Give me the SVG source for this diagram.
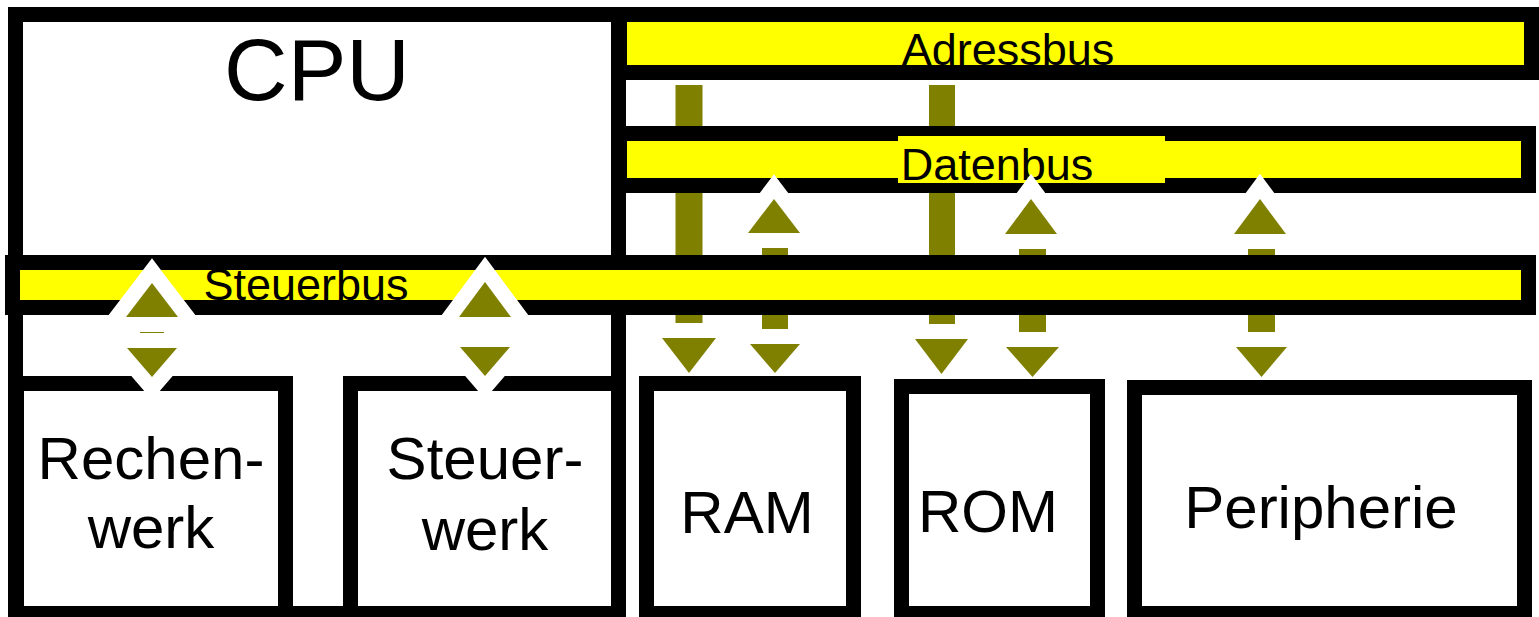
<svg xmlns="http://www.w3.org/2000/svg" width="1539" height="617" viewBox="0 0 1539 617">
<style>
.box{fill:#fff;stroke:#000;stroke-width:15}
.bus{fill:#ff0;stroke:#000;stroke-width:15}
.lbl{font-family:"Liberation Sans",Arial,sans-serif;fill:#000}
.bar{fill:none;stroke:#808000}
.head{fill:#808000;stroke:#fff;stroke-width:30;stroke-linejoin:miter;paint-order:stroke fill}
</style>
<rect width="1539" height="617" fill="#fff"/>

<!-- processor frame with its two units -->
<g id="cpu">
  <rect class="box" x="15.5" y="14.5" width="603" height="599"/>
  <text class="lbl" x="317" y="100" font-size="88" text-anchor="middle">CPU</text>
</g>
<g id="rechenwerk">
  <rect class="box" x="16.5" y="383.5" width="269" height="230"/>
  <text class="lbl" font-size="60" text-anchor="middle"><tspan x="151" y="479">Rechen-</tspan><tspan x="151" y="548">werk</tspan></text>
</g>
<g id="steuerwerk">
  <rect class="box" x="350.5" y="383.5" width="268" height="230"/>
  <text class="lbl" font-size="60" text-anchor="middle"><tspan x="485" y="479">Steuer-</tspan><tspan x="485" y="550">werk</tspan></text>
</g>

<!-- system buses -->
<g id="adressbus">
  <rect class="bus" x="619.5" y="14.5" width="912" height="58"/>
  <text class="lbl" x="1008" y="65" font-size="45" text-anchor="middle">Adressbus</text>
</g>
<g id="datenbus">
  <rect class="bus" x="619.5" y="133.5" width="909" height="52"/>
  <rect x="898" y="136" width="267" height="47" fill="#ff0"/>
  <text class="lbl" x="997" y="180" font-size="45" text-anchor="middle">Datenbus</text>
</g>
<g id="steuerbus">
  <rect class="bus" x="12.5" y="262.5" width="1516" height="45"/>
  <text class="lbl" x="306" y="300" font-size="45" text-anchor="middle">Steuerbus</text>
</g>

<!-- bus connections: shafts first, then haloed heads -->
<g id="connectors">
  <path class="bar" stroke-width="27" d="M689 85V126M689 193V255M689 315V335"/>
  <path class="bar" stroke-width="26" d="M942 85V126M942 193V255M942 315V335"/>
  <path class="bar" stroke-width="26" d="M775 240V255M775 315V335"/>
  <path class="bar" stroke-width="27" d="M1032.5 240V255M1032.5 315V335"/>
  <path class="bar" stroke-width="27" d="M1261.5 240V255M1261.5 315V335"/>
  <path class="bar" stroke-width="24" d="M152 322V342"/>
  <path class="bar" stroke-width="24" d="M486 322V342"/>

  <polygon class="head" points="662,338 716,338 689,373"/>
  <polygon class="head" points="915,339 968,339 941.5,374"/>

  <polygon class="head" points="774,199 800,233 748,233"/>
  <polygon class="head" points="750,344 800,344 775,373"/>
  <polygon class="head" points="1031,199 1057,234 1005,234"/>
  <polygon class="head" points="1006,347 1059,347 1032.5,377"/>
  <polygon class="head" points="1260,199 1286,234 1234,234"/>
  <polygon class="head" points="1236,347 1287,347 1261.5,377"/>

  <polygon class="head" points="152,283 178,317 126,317"/>
  <polygon class="head" points="127,348 177,348 152,377"/>
  <polygon class="head" points="485,282 511,317 459,317"/>
  <polygon class="head" points="460,347 510,347 485,376"/>
</g>

<!-- memory and peripheral units -->
<g id="ram">
  <rect class="box" x="646.5" y="383.5" width="207" height="230"/>
  <text class="lbl" x="747" y="533" font-size="60" text-anchor="middle">RAM</text>
</g>
<g id="rom">
  <rect class="box" x="901.5" y="386.5" width="196" height="227"/>
  <text class="lbl" x="988" y="532" font-size="60" text-anchor="middle">ROM</text>
</g>
<g id="peripherie">
  <rect class="box" x="1134.5" y="387.5" width="390" height="226"/>
  <text class="lbl" x="1321" y="528" font-size="60" text-anchor="middle">Peripherie</text>
</g>
</svg>
